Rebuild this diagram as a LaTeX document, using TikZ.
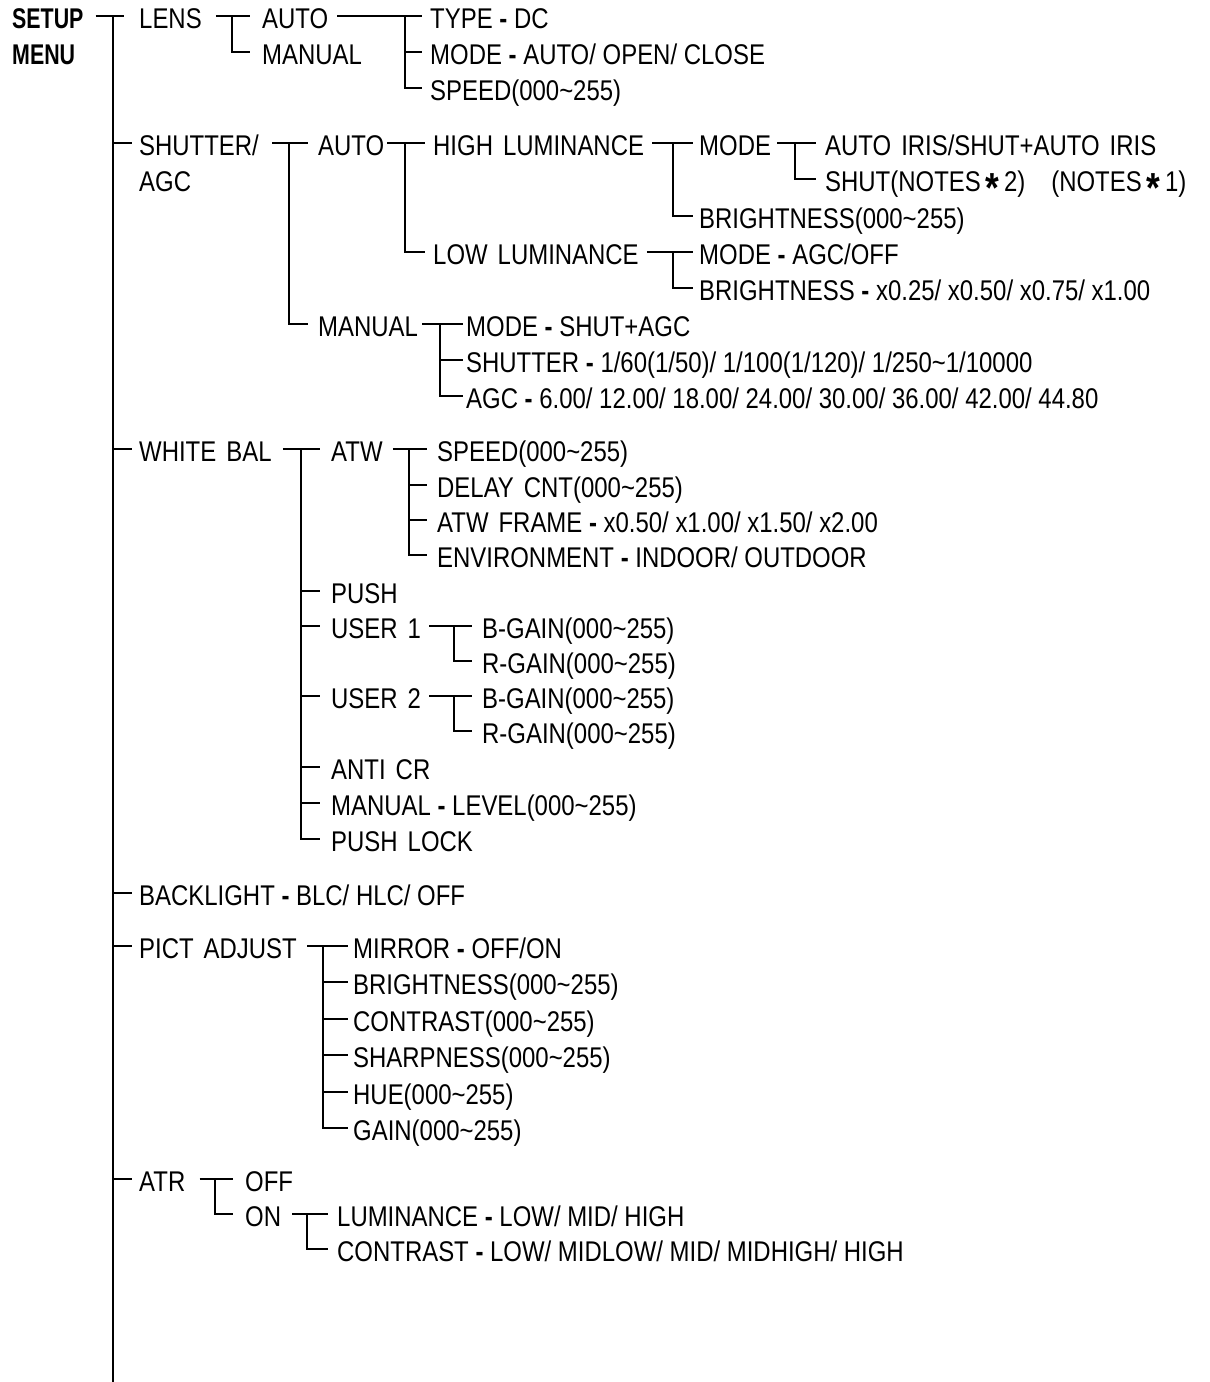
\documentclass[tikz,border=0pt]{standalone}
\usepackage{fontspec}
\setmainfont{Liberation Sans}[FakeStretch=0.84]
\newfontfamily\boldnarrow{Liberation Sans Bold}[FakeStretch=0.75]
\newcommand\fs{\fontsize{28.5}{32}\selectfont}
\newcommand\hy{\textbf{-}}
\newcommand\ws{\hspace{10pt}}
\newcommand\tl{\textasciitilde}
\newcommand\astk{\raisebox{-10.5pt}{\bfseries\fontsize{42}{42}\selectfont *}}
\begin{document}
\begin{tikzpicture}[x=1pt,y=-1pt,
  t/.style={inner sep=0pt, anchor=west, text height=25.4pt, text depth=0pt, font=\fs},
  tb/.style={t, font=\fs\boldnarrow},
  ln/.style={line width=2.2pt}]
\useasboundingbox (0,0) rectangle (1210,1382);
% ---------- nodes ----------
\node[tb] (setup) at (12,16) {SETUP};
\node[tb] (menu) at (12,52) {MENU};
\coordinate (mtop) at (113,16);
\coordinate (mbot) at (113,1382);
% LENS
\node[t] (lens) at (139,16) {LENS};
\node[t] (lauto) at (262,16) {AUTO};
\node[t] (lman) at (262,52) {MANUAL};
\node[t] (ltype) at (430,16) {TYPE \hy{} DC};
\node[t] (lmode) at (430,52) {MODE \hy{} AUTO/ OPEN/ CLOSE};
\node[t] (lspeed) at (430,88) {SPEED(000\tl255)};
% SHUTTER
\node[t] (shut) at (139,143) {SHUTTER/};
\node[t] (shutb) at (139,179) {AGC};
\node[t] (sauto) at (318,143) {AUTO};
\node[t] (hl) at (433,143) {HIGH\ws LUMINANCE};
\node[t] (ll) at (433,252) {LOW\ws LUMINANCE};
\node[t] (hmode) at (699,143) {MODE};
\node[t] (hbri) at (699,216) {BRIGHTNESS(000\tl255)};
\node[t] (iris) at (825,143) {AUTO\ws IRIS/SHUT+AUTO\ws IRIS};
\node[t] (shutn) at (825,179) {SHUT(NOTES\,\astk\,2)\hspace{26pt}(NOTES\,\astk\,1)};
\node[t] (lmod) at (699,252) {MODE \hy{} AGC/OFF};
\node[t] (lbri) at (699,288) {BRIGHTNESS \hy{} x0.25/ x0.50/ x0.75/ x1.00};
\node[t] (sman) at (318,324) {MANUAL};
\node[t] (mmode) at (466,324) {MODE \hy{} SHUT+AGC};
\node[t] (mshut) at (466,360) {SHUTTER \hy{} 1/60(1/50)/ 1/100(1/120)/ 1/250\tl1/10000};
\node[t] (magc) at (466,396) {AGC \hy{} 6.00/ 12.00/ 18.00/ 24.00/ 30.00/ 36.00/ 42.00/ 44.80};
% WHITE BAL
\node[t] (wb) at (139,449) {WHITE\ws BAL};
\node[t] (atw) at (331,449) {ATW};
\node[t] (aspeed) at (437,449) {SPEED(000\tl255)};
\node[t] (adelay) at (437,485) {DELAY\ws CNT(000\tl255)};
\node[t] (aframe) at (437,520) {ATW\ws FRAME \hy{} x0.50/ x1.00/ x1.50/ x2.00};
\node[t] (aenv) at (437,555) {ENVIRONMENT \hy{} INDOOR/ OUTDOOR};
\node[t] (push) at (331,591) {PUSH};
\node[t] (u1) at (331,626) {USER\ws 1};
\node[t] (u1b) at (482,626) {B-GAIN(000\tl255)};
\node[t] (u1r) at (482,661) {R-GAIN(000\tl255)};
\node[t] (u2) at (331,696) {USER\ws 2};
\node[t] (u2b) at (482,696) {B-GAIN(000\tl255)};
\node[t] (u2r) at (482,731) {R-GAIN(000\tl255)};
\node[t] (anti) at (331,767) {ANTI\ws CR};
\node[t] (wman) at (331,803) {MANUAL \hy{} LEVEL(000\tl255)};
\node[t] (plock) at (331,839) {PUSH\ws LOCK};
% BACKLIGHT
\node[t] (bl) at (139,893) {BACKLIGHT \hy{} BLC/ HLC/ OFF};
% PICT ADJUST
\node[t] (pict) at (139,946) {PICT\ws ADJUST};
\node[t] (pmir) at (353,946) {MIRROR \hy{} OFF/ON};
\node[t] (pbri) at (353,982) {BRIGHTNESS(000\tl255)};
\node[t] (pcon) at (353,1019) {CONTRAST(000\tl255)};
\node[t] (psha) at (353,1055) {SHARPNESS(000\tl255)};
\node[t] (phue) at (353,1092) {HUE(000\tl255)};
\node[t] (pgain) at (353,1128) {GAIN(000\tl255)};
% ATR
\node[t] (atr) at (139,1179) {ATR};
\node[t] (aoff) at (245,1179) {OFF};
\node[t] (aon) at (245,1214) {ON};
\node[t] (alum) at (337,1214) {LUMINANCE \hy{} LOW/ MID/ HIGH};
\node[t] (acon) at (337,1249) {CONTRAST \hy{} LOW/ MIDLOW/ MID/ MIDHIGH/ HIGH};
% ---------- connectors ----------
\draw[ln] (mtop) -- (mbot);
\draw[ln] ([xshift=12pt]setup.east) -- ([xshift=-15pt]lens.west);
\foreach \n in {shut,wb,bl,pict,atr}
  \draw[ln] (\n.west -| mtop) -- ([xshift=-7pt]\n.west);
% LENS
\draw[ln] ([xshift=14pt]lens.east) -- ([xshift=-12pt]lauto.west);
\draw[ln] ([xshift=-30pt]lauto.west) |- ([xshift=-12pt]lman.west);
\draw[ln] ([xshift=9pt]lauto.east) -- ([xshift=-8pt]ltype.west);
\draw[ln] ([xshift=-25pt]ltype.west) |- ([xshift=-8pt]lspeed.west);
\draw[ln] ([xshift=-25pt]lmode.west) -- ([xshift=-8pt]lmode.west);
% SHUTTER
\draw[ln] ([xshift=13pt]shut.east) -- ([xshift=-10pt]sauto.west);
\draw[ln] ([xshift=-29pt]sauto.west) |- ([xshift=-10pt]sman.west);
\draw[ln] ([xshift=3pt]sauto.east) -- ([xshift=-8pt]hl.west);
\draw[ln] ([xshift=-28pt]hl.west) |- ([xshift=-8pt]ll.west);
\draw[ln] ([xshift=8pt]hl.east) -- ([xshift=-6pt]hmode.west);
\draw[ln] ([xshift=-26pt]hmode.west) |- ([xshift=-6pt]hbri.west);
\draw[ln] ([xshift=6pt]hmode.east) -- ([xshift=-9pt]iris.west);
\draw[ln] ([xshift=-30pt]iris.west) |- ([xshift=-9pt]shutn.west);
\draw[ln] ([xshift=8pt]ll.east) -- ([xshift=-6pt]lmod.west);
\draw[ln] ([xshift=-26pt]lmod.west) |- ([xshift=-6pt]lbri.west);
\draw[ln] ([xshift=4pt]sman.east) -- ([xshift=-3pt]mmode.west);
\draw[ln] ([xshift=-26pt]mmode.west) |- ([xshift=-3pt]magc.west);
\draw[ln] ([xshift=-26pt]mshut.west) -- ([xshift=-3pt]mshut.west);
% WHITE BAL
\draw[ln] ([xshift=11pt]wb.east) -- ([xshift=-11pt]atw.west);
\draw[ln] ([xshift=-30pt]atw.west) |- ([xshift=-11pt]plock.west);
\foreach \n in {push,u1,u2,anti,wman}
  \draw[ln] ([xshift=-30pt]\n.west) -- ([xshift=-11pt]\n.west);
\draw[ln] ([xshift=10pt]atw.east) -- ([xshift=-10pt]aspeed.west);
\draw[ln] ([xshift=-28pt]aspeed.west) |- ([xshift=-10pt]aenv.west);
\foreach \n in {adelay,aframe}
  \draw[ln] ([xshift=-28pt]\n.west) -- ([xshift=-10pt]\n.west);
\draw[ln] ([xshift=8pt]u1.east) -- ([xshift=-10pt]u1b.west);
\draw[ln] ([xshift=-28pt]u1b.west) |- ([xshift=-10pt]u1r.west);
\draw[ln] ([xshift=8pt]u2.east) -- ([xshift=-10pt]u2b.west);
\draw[ln] ([xshift=-28pt]u2b.west) |- ([xshift=-10pt]u2r.west);
% PICT
\draw[ln] ([xshift=10pt]pict.east) -- ([xshift=-5pt]pmir.west);
\draw[ln] ([xshift=-30pt]pmir.west) |- ([xshift=-5pt]pgain.west);
\foreach \n in {pbri,pcon,psha,phue}
  \draw[ln] ([xshift=-30pt]\n.west) -- ([xshift=-5pt]\n.west);
% ATR
\draw[ln] ([xshift=14pt]atr.east) -- ([xshift=-12pt]aoff.west);
\draw[ln] ([xshift=-30pt]aoff.west) |- ([xshift=-12pt]aon.west);
\draw[ln] ([xshift=11pt]aon.east) -- ([xshift=-9pt]alum.west);
\draw[ln] ([xshift=-30pt]alum.west) |- ([xshift=-9pt]acon.west);
\end{tikzpicture}
\end{document}
